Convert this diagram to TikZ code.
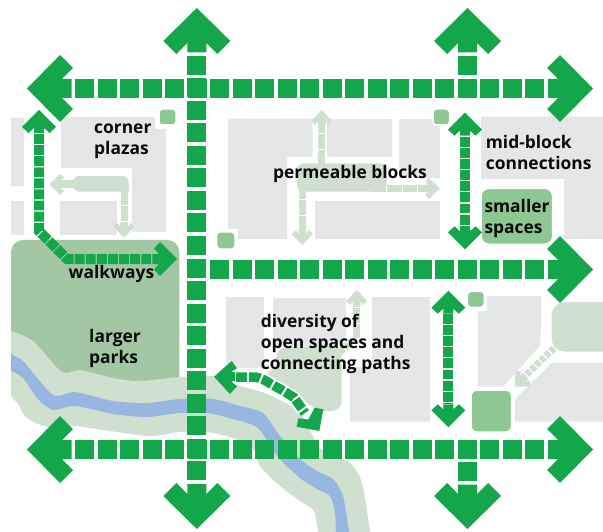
\documentclass[tikz,border=0pt]{standalone}
\usepackage{fontspec}
\setmainfont{Open Sans}
\definecolor{roadg}{HTML}{13A64B}
\definecolor{bldg}{HTML}{E5E6E8}
\definecolor{parkg}{HTML}{A3C7A4}
\definecolor{lightg}{HTML}{CFE0CE}
\definecolor{plazag}{HTML}{8DC792}
\definecolor{riverb}{HTML}{97B7E0}
\definecolor{ink}{HTML}{0A0A0A}
\tikzset{
  mainroad/.style={draw=roadg,line width=19pt,dash pattern=on 19pt off 3.5pt},
  walkroad/.style={draw=roadg,line width=10pt,dash pattern=on 9.9pt off 1.2pt},
  curveroad/.style={draw=roadg,line width=9.5pt,dash pattern=on 11pt off 2.2pt},
  lightroad/.style={draw=lightg,line width=7.5pt,dash pattern=on 14.4pt off 1pt},
  lightdiag/.style={draw=lightg,line width=7pt,dash pattern=on 5pt off 1.6pt},
  building/.style={fill=bldg},
  plaza/.style={fill=plazag,draw=white,line width=1.5pt,rounded corners=3.5pt},
  lbl/.style={text=ink,font=\fontsize{17.4}{21}\selectfont\bfseries,inner sep=0pt,anchor=base west,align=left},
}
\newcommand{\bighead}[3]{\fill[roadg,shift={(#1,#2)},rotate=#3] (0,0)--(-33,33.5)--(-46,20.5)--(-35,9.5)--(-44.5,9.5)--(-44.5,-9.5)--(-35,-9.5)--(-46,-20.5)--(-33,-33.5)--cycle;}
\newcommand{\smallhead}[3]{\fill[roadg,shift={(#1,#2)},rotate=#3] (0,0)--(-17,17)--(-23,10.5)--(-18,5)--(-23,5)--(-23,-5)--(-18,-5)--(-23,-10.5)--(-17,-17)--cycle;}
\newcommand{\lighthead}[3]{\fill[lightg,shift={(#1,#2)},rotate=#3] (0,0)--(-11,10.5)--(-15,6.5)--(-11,3.8)--(-15,3.8)--(-15,-3.8)--(-11,-3.8)--(-15,-6.5)--(-11,-10.5)--cycle;}
\begin{document}
\begin{tikzpicture}[x=1pt,y=-1pt]
\useasboundingbox (0,0) rectangle (603,532);
\fill[white] (0,0) rectangle (603,532);
\clip (0,0) rectangle (603,532);
% buildings
\fill[building] (11,117.7) rectangle (24,185.7);
\fill[building] (11,201) rectangle (24,235);
\fill[building] (61,117)--(155,117)--(155,129)--(166,129)--(166,232)--(132,232)--(132,168)--(61,168)--cycle;
\fill[building] (60,201) rectangle (117,235);
\fill[building] (228,119)--(312.7,119)--(312.7,157)--(287,157)--(287,239)--(238,239)--(238,229)--(228,229)--cycle;
\fill[building] (327,119) rectangle (392,157);
\fill[building] (399,119) rectangle (440,177.7);
\fill[building] (315,201) rectangle (440,239);
\fill[building] (481,116.7)--(603,116.7)--(603,239)--(564,239)--(564,179)--(481,179)--cycle;
\fill[building] (226,297) rectangle (264,367.7);
\fill[building] (273,298)--(346,298)--(346,336)--(339,346)--(273,346)--cycle;
\fill[building] (372,297)--(430,297)--(430,421.7)--(350,421.7)--(350,367)--(372,367)--cycle;
\fill[building] (487,296)--(541,296)--(541,329)--(539.7,346)--(503,386.7)--(477.7,386.7)--(477.7,311)--(487,311)--cycle;
\fill[building] (515,399)--(551.7,362.7)--(603,362.7)--(603,421.7)--(515,421.7)--cycle;
% park
\fill[parkg,rounded corners=12pt] (11,400)--(11,240)--(179.3,240)--(179.3,400)--cycle;
% river band
\fill[lightg] plot[smooth,tension=0.45] coordinates {(11,331) (33,341) (62,372) (80,370) (113,378) (140,381) (180,377) (213,376) (233,384) (267,394) (300,413) (320,448) (350,463) (362,483) (370,532)}
  -- plot[smooth,tension=0.45] coordinates {(318,532) (314,511) (300,501) (280,486) (260,466) (253,449) (233,438) (207,432) (180,432) (150,436) (110,431) (75,426) (57,428) (38,424) (25,416) (18,404) (11,396)} -- cycle;
% river
\fill[riverb] plot[smooth,tension=0.45] coordinates {(11,354) (23,361) (38,379) (55,396) (75,392) (113,401) (147,403) (180,399) (213,399) (240,406) (263,413) (280,436) (300,459) (317,471) (333,479) (342,493) (345,506) (349,532)}
  -- plot[smooth,tension=0.45] coordinates {(336,532) (335,513) (330,496) (317,489) (300,478) (277,456) (258,428) (233,419) (207,413) (180,413) (147,417) (113,414) (75,406) (53,410) (38,399) (23,378) (11,371)} -- cycle;
% diversity blob and its up path
\draw[white,line width=12pt] (341,350)--(356.7,335)--(356.7,305);
\fill[lightg,rounded corners=10pt] (276,348)--(341.7,345)--(341.7,411)--(316,411)--(296,392)--(262,372)--(276,372)--cycle;
\draw[lightdiag] (340,352)--(354,339);
\draw[lightroad] (356.7,338)--(356.7,299);
\lighthead{356.7}{290}{90}
% corner plazas light arrows
\fill[lightg,rounded corners=6pt] (73,176)--(128.5,176)--(128.5,191.7)--(73,191.7)--cycle;
\fill[lightg] (121,185) rectangle (128.5,191.7);
\draw[draw=lightg,line width=7.5pt] (76,184)--(60,184);
\lighthead{49.3}{184.3}{180}
\draw[lightroad] (124.7,191)--(124.7,227);
\lighthead{124}{237.7}{-90}
% permeable
\fill[lightg,rounded corners=7pt] (296.7,163.3) rectangle (386.7,191.7);
\draw[lightroad] (321.7,164)--(321.7,119);
\lighthead{321.7}{110}{90}
\draw[lightroad] (372,188.5)--(430,188.5);
\lighthead{440}{188.5}{0}
\draw[lightroad] (302.3,185)--(302.3,236);
\lighthead{302.3}{245}{-90}
% right blob
\fill[lightg,rounded corners=13pt] (551.7,302) rectangle (625,351.7);
\draw[lightdiag] (554,348)--(524,377);
\lighthead{515}{386.7}{225}
% plazas
\path[plaza] (159,109) rectangle (176,125);
\path[plaza] (216.7,232) rectangle (235,249);
\path[plaza] (433,109) rectangle (449.7,125);
\path[plaza] (467.3,291.3) rectangle (484.3,307.3);
\path[plaza,rounded corners=6pt] (471,390) rectangle (511.7,432);
\path[plaza,rounded corners=8pt] (481,188.3) rectangle (552.7,244.3);
% main roads
\draw[mainroad] (75,88.5)--(548,88.5);
\draw[mainroad] (75,449.5)--(548,449.5);
\draw[mainroad] (210,269.5)--(548,269.5);
\draw[mainroad] (196.8,56)--(196.8,485);
\draw[mainroad] (467.5,56)--(467.5,76);
\draw[mainroad] (467.5,462)--(467.5,482);
\bighead{27}{88.5}{180}
\bighead{593}{88.5}{0}
\bighead{27}{449.5}{180}
\bighead{593}{449.5}{0}
\bighead{593}{269.5}{0}
\bighead{196.8}{8}{90}
\bighead{467.5}{8}{90}
\bighead{196.8}{529}{-90}
\bighead{467.5}{529}{-90}
% walkways
\draw[walkroad] (39,134)--(39,231)--(67,259)--(157,259);
\smallhead{39}{110}{90}
\smallhead{177}{259}{0}
\draw[walkroad] (465,137)--(465,226);
\smallhead{465}{112.7}{90}
\smallhead{465}{249.3}{-90}
\draw[walkroad] (448.3,314)--(448.3,404);
\smallhead{448.3}{290.7}{90}
\smallhead{448.3}{427.3}{-90}
% diversity walk
\draw[white,line width=13pt] (238,377)--(255,377) .. controls (262,378) and (266,381) .. (271,384)--(281,389.5)--(294,397.5)--(303,410);
\draw[curveroad] (236,377)--(255,377) .. controls (262,378) and (266,381) .. (271,384)--(281,389.5)--(294,397.5)--(305,413);
\fill[roadg,shift={(214,376.7)}] (0,0)--(17.7,-15.7)--(23,-8.5)--(17,-4.7)--(21,-4.7)--(21,4.7)--(17,4.7)--(23,9.5)--(16,17.3)--cycle;
\fill[roadg] (314.7,407.7)--(323.3,409.3)--(319.3,431)--(296.7,426.7)--(298.3,418.3)--(308.3,419.5)--cycle;
% labels
\node[lbl] (corner) at (94,155) {corner\\plazas};
\node[lbl] (perm) at (273,179) {permeable blocks};
\node[lbl] (mid) at (485.7,169.3) {mid-block\\connections};
\node[lbl] (small) at (484.3,233.3) {smaller\\spaces};
\node[lbl] (walk) at (68.5,278.7) {walkways};
\node[lbl] (large) at (89,363.3) {larger\\parks};
\node[lbl] (div) at (260.7,369.3) {diversity of\\open spaces and\\connecting paths};
\end{tikzpicture}
\end{document}
